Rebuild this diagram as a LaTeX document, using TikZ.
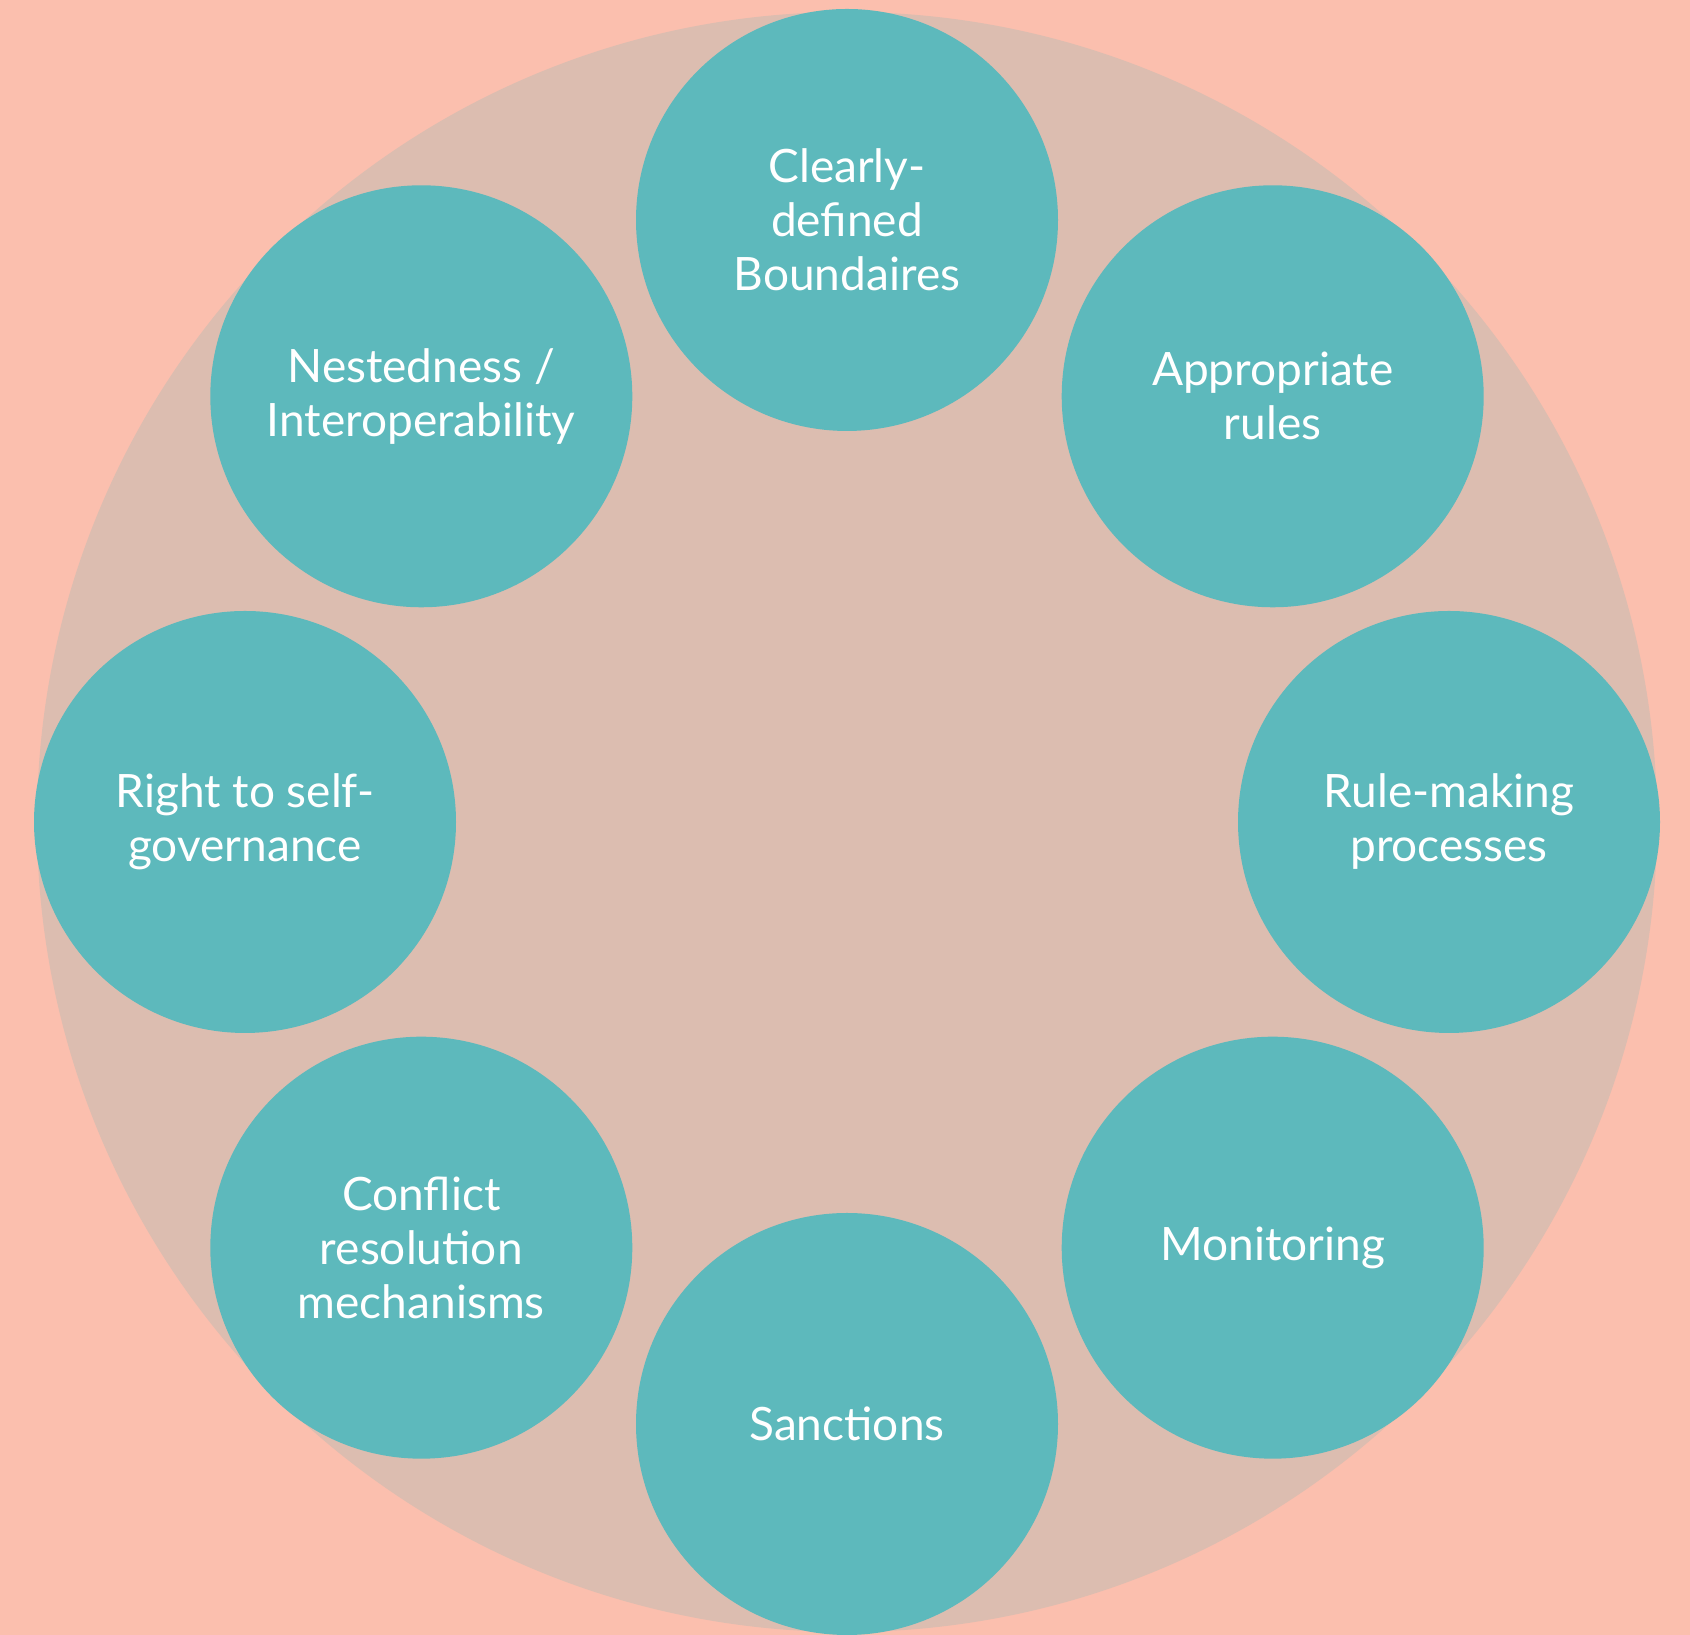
\documentclass[tikz,border=0pt]{standalone}
\usepackage{fontspec}
\setmainfont{Lato}
\definecolor{salmonbg}{RGB}{251,191,174}
\definecolor{ringbg}{RGB}{220,189,176}
\definecolor{tealfill}{RGB}{93,185,188}
\tikzset{
  Principle/.style={circle, fill=tealfill, minimum size=422pt, inner sep=0pt,
    text=white, align=center, font=\fontsize{46}{54}\selectfont}
}
\begin{document}
\begin{tikzpicture}[x=1pt,y=1pt]
\useasboundingbox (0,0) rectangle (1690,1635);
\fill[salmonbg] (0,0) rectangle (1690,1635);
\fill[ringbg] (847,813) circle (810);
\node[Principle] (boundaries) at (847,1415) {Clearly-\\defined\\Boundaires};
\node[Principle] (rules) at (1272.7,1238.7) {Appropriate\\rules};
\node[Principle] (rulemaking) at (1449,813) {Rule-making\\processes};
\node[Principle] (monitoring) at (1272.7,387.3) {Monitoring};
\node[Principle] (sanctions) at (847,211) {Sanctions};
\node[Principle] (conflict) at (421.3,387.3) {Conflict\\resolution\\mechanisms};
\node[Principle] (selfgov) at (245,813) {Right to self-\\governance};
\node[Principle] (nested) at (421.3,1238.7) {Nestedness /\\Interoperability};
\end{tikzpicture}
\end{document}
